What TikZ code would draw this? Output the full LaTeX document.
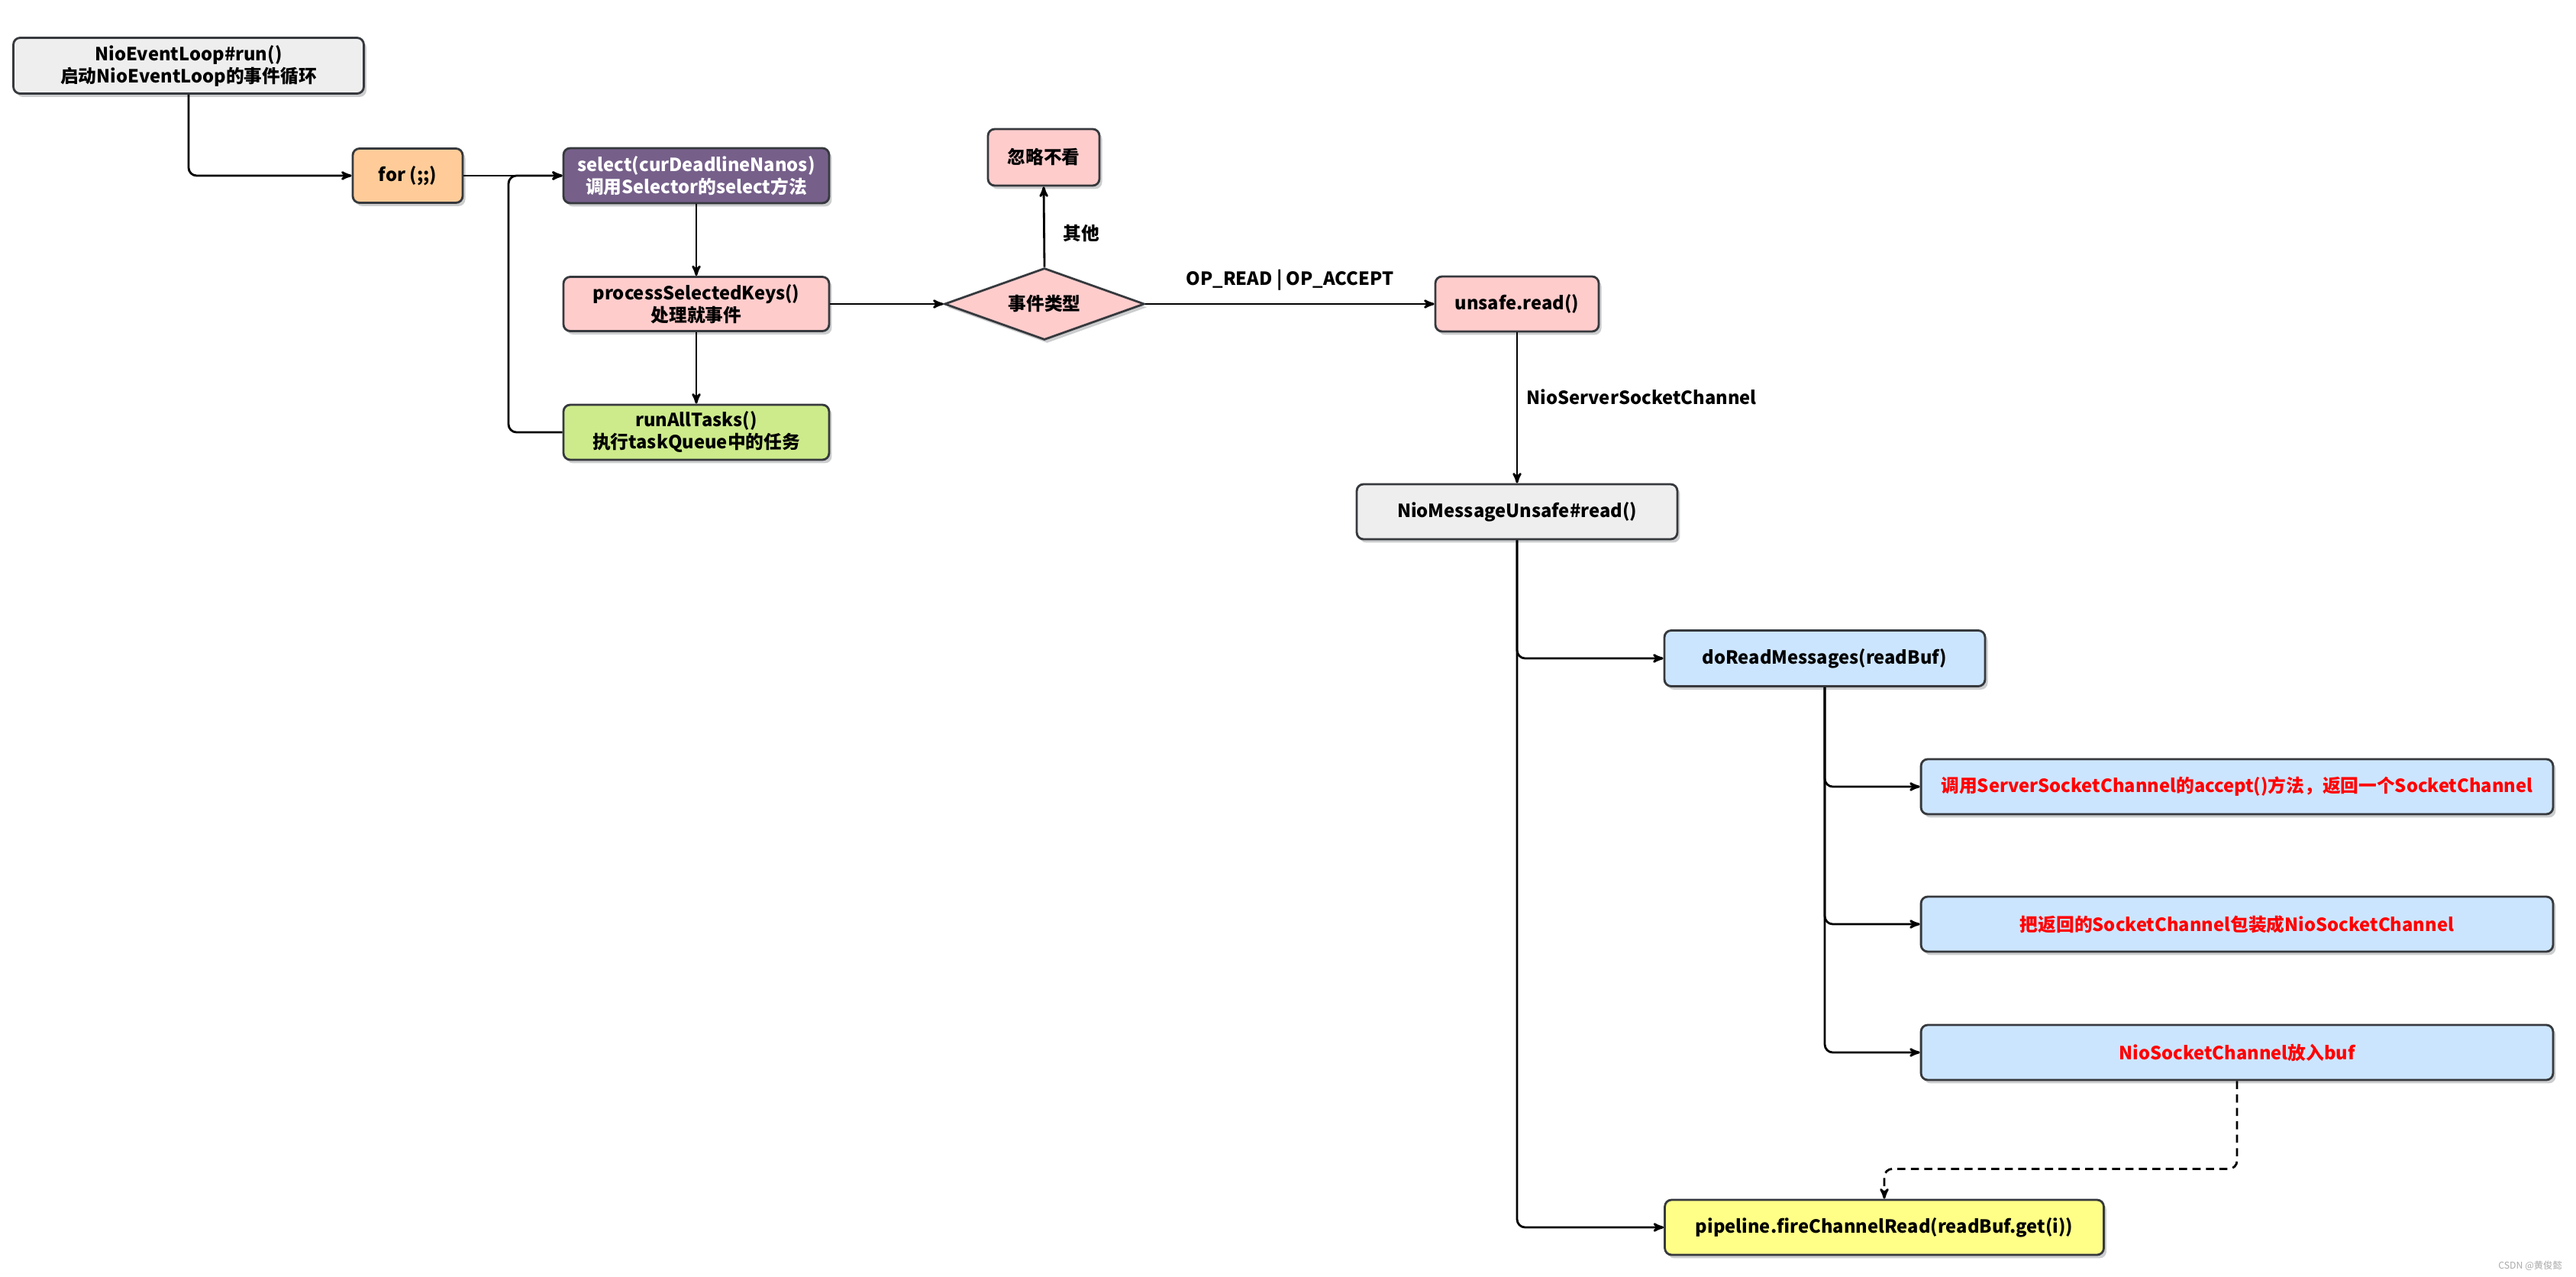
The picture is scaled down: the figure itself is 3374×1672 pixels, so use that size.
\documentclass[tikz,border=0pt]{standalone}
\usepackage{fontspec}
\setmainfont{Noto Sans CJK SC}
\usepackage{tikz}
\usetikzlibrary{arrows,shapes,shadows}
\definecolor{grayfill}{HTML}{EEEEEE}
\definecolor{boxline}{HTML}{36393D}
\definecolor{orangefill}{HTML}{FFCC99}
\definecolor{purplefill}{HTML}{76608A}
\definecolor{pinkfill}{HTML}{FFCCCC}
\definecolor{greenfill}{HTML}{CDEB8B}
\definecolor{bluefill}{HTML}{CCE5FF}
\definecolor{yellowfill}{HTML}{FFFF88}
\definecolor{marktext}{HTML}{AAAAAA}

\begin{document}
\begin{tikzpicture}[x=0.02cm, y=-0.02cm, >=stealth',
  txt/.style={font=\bfseries\fontsize{13.5}{16.5}\selectfont},
  box/.style={txt, rectangle, rounded corners=5pt, draw=boxline, line width=1.6pt, align=center, inner sep=2pt,
    drop shadow={shadow xshift=2pt, shadow yshift=-2.5pt, opacity=0.25, fill=boxline}},
  dia/.style={txt, diamond, aspect=2.8, inner sep=0pt, draw=boxline, line width=1.6pt,
    drop shadow={shadow xshift=2pt, shadow yshift=-2.5pt, opacity=0.25, fill=boxline}},
  line/.style={->, line width=1.6pt, rounded corners=6pt},
  lbl/.style={txt}]
\path[use as bounding box, fill=white] (0,0) rectangle (3374,1672);

% event loop
\node[box, fill=grayfill, minimum width=9.18cm, minimum height=1.46cm] (run) at (247,86) {NioEventLoop\#run()\\启动NioEventLoop的事件循环};
\node[box, fill=orangefill, minimum width=2.88cm, minimum height=1.42cm] (for) at (534,230) {for (;;)};
\node[box, fill=purplefill, text=white, minimum width=6.96cm, minimum height=1.44cm] (select) at (912,230) {select(curDeadlineNanos)\\调用Selector的select方法};
\node[box, fill=pinkfill, minimum width=6.96cm, minimum height=1.42cm] (process) at (912,398) {processSelectedKeys()\\处理就事件};
\node[box, fill=greenfill, minimum width=6.96cm, minimum height=1.44cm] (runall) at (912,566) {runAllTasks()\\执行taskQueue中的任务};
\coordinate (loop) at (666,230);

% events
\node[dia, fill=pinkfill, minimum width=5.24cm, minimum height=1.88cm] (type) at (1368,398) {事件类型};
\node[box, fill=pinkfill, minimum width=2.92cm, minimum height=1.48cm] (ignore) at (1367,206) {忽略不看};
\node[box, fill=pinkfill, minimum width=4.28cm, minimum height=1.44cm] (unsafe) at (1987,398) {unsafe.read()};
\node[box, fill=grayfill, minimum width=8.4cm, minimum height=1.44cm] (msgread) at (1987,670) {NioMessageUnsafe\#read()};
\node[box, fill=bluefill, minimum width=8.4cm, minimum height=1.46cm] (doread) at (2390,862) {doReadMessages(readBuf)};
\node[box, fill=bluefill, text=red, minimum width=16.56cm, minimum height=1.44cm] (red1) at (2930,1030) {调用ServerSocketChannel的accept()方法，返回一个SocketChannel};
\node[box, fill=bluefill, text=red, minimum width=16.56cm, minimum height=1.44cm] (red2) at (2930,1210) {把返回的SocketChannel包装成NioSocketChannel};
\node[box, fill=bluefill, text=red, minimum width=16.56cm, minimum height=1.44cm] (red3) at (2930,1378) {NioSocketChannel放入buf};
\node[box, fill=yellowfill, minimum width=11.5cm, minimum height=1.44cm] (pipe) at (2468,1607) {pipeline.fireChannelRead(readBuf.get(i))};

\node[font=\fontsize{7}{8}\selectfont, text=marktext, anchor=east] (mark) at (3362,1657) {CSDN @黄俊懿};

\draw[line] (run.south) |- (for.west);
\draw[line] (for.east) -- (select.west);
\draw[line] (select.south) -- (process.north);
\draw[line] (process.south) -- (runall.north);
\draw[line] (runall.west) -| (loop) -- (select.west);
\draw[line] (process.east) -- (type.west);
\draw[line] (type.north) -- node[lbl, right=10pt, pos=0.42] {其他} (ignore.south);
\draw[line] (type.east) -- node[lbl, above=6pt] {OP\_READ | OP\_ACCEPT} (unsafe.west);
\draw[line] (unsafe.south) -- node[lbl, right=3pt, pos=0.43] {NioServerSocketChannel} (msgread.north);
\draw[line] (msgread.south) |- (doread.west);
\draw[line] (msgread.south) |- (pipe.west);
\foreach \n in {red1,red2,red3}
  \draw[line] (doread.south) |- (\n.west);
\draw[line, dash pattern=on 6pt off 4pt] (red3.south) -- ++(0,115) -| (pipe.north);
\end{tikzpicture}
\end{document}
